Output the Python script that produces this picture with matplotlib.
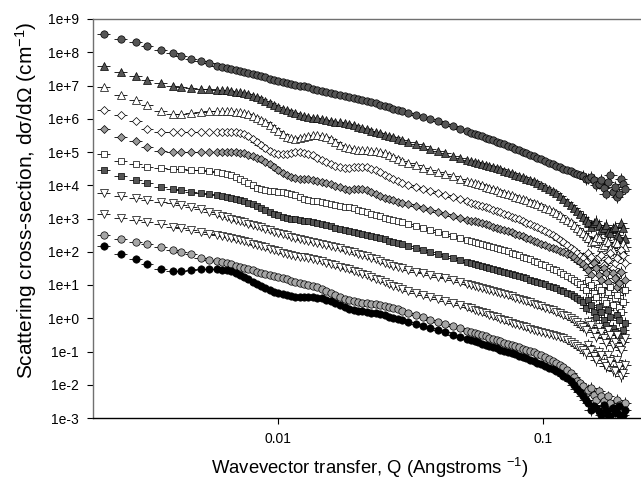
import numpy as np
import matplotlib
matplotlib.use("Agg")
import matplotlib.pyplot as plt
from matplotlib.ticker import FixedLocator, FuncFormatter, NullLocator

plt.rcParams['font.family'] = ['Liberation Sans', 'DejaVu Sans']
plt.rcParams['mathtext.fontset'] = 'custom'
plt.rcParams['mathtext.rm'] = 'Liberation Sans'
plt.rcParams['mathtext.it'] = 'Liberation Sans'

# Shared Q grid (1/Angstrom)
q = [0.0022, 0.00255, 0.0029, 0.0032, 0.0036, 0.0040, 0.0043, 0.0047, 0.0051, 0.0055, 0.0059,
     0.00615, 0.0064, 0.00665, 0.0069, 0.00715, 0.0074, 0.0077, 0.0080, 0.0083, 0.0086,
     0.00895, 0.0093, 0.00965, 0.0100, 0.0104, 0.0108, 0.0112, 0.0116, 0.01205, 0.0125,
     0.0130, 0.0135, 0.01405, 0.0146, 0.0152, 0.0158, 0.01645, 0.0171, 0.0178, 0.0185,
     0.01925, 0.0200, 0.0208, 0.0216, 0.02245, 0.0233, 0.02425, 0.0252, 0.0262, 0.0272,
     0.0283, 0.0294,
     0.0310, 0.0330, 0.0352, 0.0375, 0.0400, 0.0427, 0.0455, 0.0485, 0.0517,
     0.0534, 0.0551, 0.05695, 0.0588, 0.06075, 0.0627, 0.06475, 0.0668, 0.0690, 0.0712,
     0.0736, 0.0760, 0.0785, 0.0810, 0.0837, 0.0864, 0.08925, 0.0921, 0.09515, 0.0982,
     0.1016, 0.105, 0.1085, 0.112, 0.1155, 0.119, 0.123, 0.127, 0.1305, 0.134,
     0.1375, 0.141, 0.1445, 0.148, 0.1515, 0.155, 0.1585, 0.162, 0.1655, 0.169,
     0.1725, 0.176, 0.1795, 0.183, 0.1865, 0.190, 0.1935, 0.197, 0.2005, 0.204]

# log10 of scattering cross-section for each (offset) curve, top to bottom
s1 = [8.55, 8.40, 8.30, 8.19, 8.08, 7.98, 7.90, 7.81, 7.74, 7.67, 7.60,
      7.56, 7.52, 7.49, 7.46, 7.43, 7.40, 7.37, 7.34, 7.31, 7.28,
      7.25, 7.21, 7.18, 7.15, 7.12, 7.09, 7.06, 7.03, 7.00, 6.97,
      6.94, 6.90, 6.87, 6.84, 6.81, 6.78, 6.75, 6.72, 6.69, 6.66,
      6.62, 6.59, 6.56, 6.53, 6.50, 6.46, 6.42, 6.38, 6.34, 6.30,
      6.26, 6.22,
      6.17, 6.11, 6.05, 5.99, 5.92, 5.85, 5.78, 5.70, 5.62,
      5.58, 5.55, 5.51, 5.47, 5.43, 5.39, 5.35, 5.31, 5.27, 5.23,
      5.19, 5.14, 5.10, 5.05, 5.01, 4.96, 4.92, 4.87, 4.83, 4.78,
      4.73, 4.68, 4.64, 4.59, 4.55, 4.50, 4.46, 4.42, 4.38, 4.34,
      4.30, 4.27, 4.18, 4.20, 4.25, 4.15, 4.00, 4.05, 4.15, 3.92,
      3.75, 4.10, 4.30, 3.80, 3.95, 3.65, 3.75, 4.20, 4.05, 3.90]
s2 = [7.60, 7.41, 7.28, 7.16, 7.07, 6.99, 6.95, 6.92, 6.90, 6.89, 6.87,
      6.86, 6.85, 6.83, 6.81, 6.79, 6.76, 6.73, 6.69, 6.65, 6.60,
      6.54, 6.48, 6.42, 6.36, 6.30, 6.25, 6.20, 6.16, 6.12, 6.08,
      6.05, 6.03, 6.01, 5.99, 5.96, 5.94, 5.91, 5.89, 5.86, 5.83,
      5.80, 5.76, 5.72, 5.68, 5.64, 5.60, 5.56, 5.52, 5.48, 5.44,
      5.40, 5.37,
      5.31, 5.24, 5.17, 5.10, 5.03, 4.96, 4.89, 4.82, 4.76,
      4.73, 4.70, 4.67, 4.64, 4.61, 4.58, 4.55, 4.51, 4.48, 4.44,
      4.40, 4.36, 4.32, 4.28, 4.24, 4.20, 4.16, 4.12, 4.07, 4.02,
      3.96, 3.90, 3.83, 3.76, 3.68, 3.60, 3.50, 3.40, 3.32, 3.23,
      3.14, 3.05, 2.95, 2.90, 2.75, 2.85, 2.92, 2.80, 2.65, 2.72,
      2.80, 2.60, 2.55, 2.70, 2.75, 2.50, 2.45, 2.85, 2.70, 2.40]
s3 = [6.96, 6.72, 6.57, 6.40, 6.22, 6.15, 6.15, 6.18, 6.20, 6.22, 6.23,
      6.23, 6.23, 6.22, 6.21, 6.19, 6.17, 6.13, 6.09, 6.03, 5.97,
      5.90, 5.82, 5.73, 5.63, 5.53, 5.45, 5.41, 5.40, 5.43, 5.46,
      5.49, 5.50, 5.50, 5.48, 5.44, 5.39, 5.30, 5.22, 5.15, 5.11,
      5.09, 5.07, 5.06, 5.05, 5.04, 5.03, 5.00, 4.97, 4.92, 4.86,
      4.80, 4.73,
      4.67, 4.60, 4.53, 4.47, 4.40, 4.34, 4.27, 4.20, 4.14,
      4.10, 4.07, 4.03, 4.00, 3.96, 3.93, 3.89, 3.85, 3.81, 3.78,
      3.74, 3.70, 3.66, 3.63, 3.59, 3.55, 3.51, 3.47, 3.43, 3.38,
      3.33, 3.28, 3.22, 3.16, 3.10, 3.03, 2.96, 2.88, 2.79, 2.70,
      2.62, 2.55, 2.48, 2.42, 2.28, 2.33, 2.45, 2.40, 2.15, 2.20,
      2.35, 2.30, 2.10, 2.05, 2.30, 2.25, 2.00, 1.95, 2.25, 2.15]
s4 = [6.26, 6.11, 5.92, 5.68, 5.61, 5.59, 5.59, 5.60, 5.61, 5.61, 5.61,
      5.61, 5.61, 5.60, 5.59, 5.57, 5.54, 5.48, 5.40, 5.31, 5.22,
      5.13, 5.04, 4.97, 4.93, 4.93, 4.95, 4.98, 5.00, 5.00, 4.98,
      4.95, 4.90, 4.83, 4.76, 4.70, 4.64, 4.59, 4.55, 4.53, 4.52,
      4.54, 4.55, 4.55, 4.54, 4.50, 4.45, 4.39, 4.32, 4.25, 4.19,
      4.13, 4.07,
      4.01, 3.95, 3.89, 3.83, 3.77, 3.71, 3.65, 3.59, 3.52,
      3.48, 3.45, 3.41, 3.38, 3.34, 3.31, 3.27, 3.23, 3.19, 3.15,
      3.10, 3.06, 3.01, 2.97, 2.92, 2.87, 2.83, 2.78, 2.73, 2.68,
      2.62, 2.57, 2.50, 2.43, 2.36, 2.28, 2.20, 2.12, 2.04, 1.96,
      1.88, 1.82, 1.70, 1.95, 1.85, 1.70, 1.55, 1.85, 1.90, 1.60,
      1.45, 1.75, 1.95, 1.50, 1.65, 1.80, 1.35, 2.05, 1.90, 1.65]
s5 = [5.69, 5.44, 5.32, 5.14, 5.04, 5.01, 5.00, 5.00, 5.01, 5.01, 5.01,
      5.01, 5.01, 5.01, 5.00, 4.98, 4.96, 4.92, 4.88, 4.83, 4.78,
      4.71, 4.64, 4.55, 4.45, 4.37, 4.30, 4.26, 4.22, 4.20, 4.19,
      4.18, 4.16, 4.14, 4.11, 4.08, 4.04, 3.99, 3.94, 3.90, 3.87,
      3.88, 3.88, 3.88, 3.87, 3.81, 3.74, 3.68, 3.63, 3.59, 3.55,
      3.51, 3.48,
      3.43, 3.38, 3.32, 3.26, 3.20, 3.14, 3.08, 3.02, 2.96,
      2.93, 2.91, 2.88, 2.85, 2.82, 2.79, 2.75, 2.72, 2.69, 2.66,
      2.62, 2.58, 2.54, 2.50, 2.46, 2.42, 2.38, 2.33, 2.28, 2.24,
      2.20, 2.15, 2.11, 2.07, 2.02, 1.98, 1.94, 1.90, 1.83, 1.75,
      1.68, 1.62, 1.55, 1.45, 1.30, 1.65, 1.50, 1.30, 1.15, 1.50,
      1.35, 1.10, 0.90, 1.35, 1.20, 0.95, 1.05, 1.40, 0.85, 1.15]
s6 = [4.93, 4.74, 4.63, 4.56, 4.51, 4.49, 4.48, 4.46, 4.45, 4.43, 4.39,
      4.37, 4.34, 4.30, 4.25, 4.19, 4.13, 4.06, 4.00, 3.93, 3.88,
      3.85, 3.83, 3.82, 3.81, 3.80, 3.78, 3.74, 3.70, 3.65, 3.60,
      3.57, 3.54, 3.52, 3.50, 3.47, 3.44, 3.41, 3.39, 3.36, 3.34,
      3.31, 3.27, 3.23, 3.19, 3.15, 3.11, 3.07, 3.03, 2.99, 2.95,
      2.91, 2.88,
      2.83, 2.77, 2.72, 2.66, 2.60, 2.54, 2.48, 2.42, 2.36,
      2.33, 2.30, 2.27, 2.24, 2.21, 2.18, 2.15, 2.12, 2.09, 2.05,
      2.01, 1.97, 1.93, 1.89, 1.85, 1.81, 1.77, 1.72, 1.68, 1.63,
      1.59, 1.54, 1.49, 1.44, 1.39, 1.33, 1.28, 1.22, 1.16, 1.10,
      1.02, 0.95, 0.85, 1.15, 1.00, 0.75, 0.65, 0.95, 0.85, 0.55,
      0.45, 0.80, 0.95, 0.40, 0.60, 0.70, 0.35, 0.20, 0.50, 0.85]
s7 = [4.46, 4.27, 4.16, 4.06, 3.96, 3.89, 3.86, 3.81, 3.77, 3.73, 3.70,
      3.68, 3.66, 3.63, 3.60, 3.57, 3.53, 3.48, 3.43, 3.38, 3.33,
      3.27, 3.21, 3.15, 3.10, 3.06, 3.03, 3.00, 2.98, 2.95, 2.93,
      2.91, 2.89, 2.86, 2.83, 2.80, 2.76, 2.72, 2.69, 2.65, 2.62,
      2.59, 2.56, 2.53, 2.51, 2.48, 2.44, 2.40, 2.37, 2.33, 2.29,
      2.25, 2.22,
      2.17, 2.11, 2.05, 1.99, 1.93, 1.87, 1.81, 1.75, 1.69,
      1.66, 1.64, 1.61, 1.58, 1.55, 1.52, 1.49, 1.46, 1.43, 1.40,
      1.36, 1.33, 1.30, 1.27, 1.23, 1.20, 1.16, 1.13, 1.09, 1.06,
      1.02, 0.98, 0.94, 0.90, 0.86, 0.82, 0.77, 0.72, 0.66, 0.60,
      0.54, 0.48, 0.30, 0.55, 0.40, 0.20, 0.05, 0.35, 0.20, -0.05,
      -0.20, 0.25, 0.05, -0.30, -0.40, 0.10, -0.05, -0.55, -0.35, -0.15]
s8 = [3.76, 3.67, 3.61, 3.56, 3.51, 3.46, 3.42, 3.36, 3.29, 3.21, 3.13,
      3.08, 3.04, 3.00, 2.96, 2.92, 2.88, 2.84, 2.80, 2.76, 2.73,
      2.68, 2.64, 2.60, 2.56, 2.52, 2.49, 2.45, 2.42, 2.39, 2.36,
      2.33, 2.30, 2.27, 2.24, 2.20, 2.17, 2.13, 2.10, 2.06, 2.02,
      1.98, 1.94, 1.90, 1.86, 1.81, 1.77, 1.72, 1.67, 1.62, 1.58,
      1.54, 1.50,
      1.45, 1.40, 1.35, 1.30, 1.25, 1.20, 1.15, 1.10, 1.04,
      1.01, 0.98, 0.95, 0.92, 0.89, 0.86, 0.83, 0.80, 0.76, 0.73,
      0.70, 0.66, 0.62, 0.59, 0.55, 0.52, 0.48, 0.44, 0.40, 0.36,
      0.32, 0.28, 0.24, 0.20, 0.15, 0.11, 0.06, 0.00, -0.06, -0.12,
      -0.20, -0.25, -0.35, -0.10, -0.20, -0.40, -0.55, -0.25, -0.40, -0.60,
      -0.75, -0.35, -0.50, -0.80, -0.70, -0.50, -0.85, -0.95, -0.70, -0.60]
s9 = [3.13, 3.02, 2.94, 2.88, 2.82, 2.75, 2.71, 2.65, 2.59, 2.54, 2.49,
      2.46, 2.43, 2.40, 2.37, 2.34, 2.31, 2.28, 2.24, 2.21, 2.17,
      2.13, 2.09, 2.05, 2.01, 1.97, 1.94, 1.91, 1.88, 1.85, 1.83,
      1.80, 1.77, 1.74, 1.71, 1.67, 1.63, 1.59, 1.55, 1.51, 1.47,
      1.43, 1.38, 1.34, 1.29, 1.24, 1.19, 1.14, 1.09, 1.04, 0.98,
      0.93, 0.88,
      0.83, 0.77, 0.71, 0.65, 0.59, 0.53, 0.47, 0.40, 0.33,
      0.30, 0.26, 0.23, 0.19, 0.15, 0.11, 0.07, 0.03, -0.01, -0.05,
      -0.09, -0.13, -0.17, -0.20, -0.24, -0.27, -0.31, -0.34, -0.38, -0.41,
      -0.44, -0.47, -0.50, -0.53, -0.56, -0.60, -0.65, -0.70, -0.76, -0.82,
      -0.88, -0.95, -1.05, -0.80, -0.95, -1.15, -1.25, -1.00, -1.10, -1.35,
      -1.45, -1.10, -1.30, -1.55, -1.60, -1.25, -1.45, -1.75, -1.65, -1.40]
s10 = [2.50, 2.38, 2.30, 2.23, 2.13, 2.05, 2.00, 1.92, 1.82, 1.76, 1.71,
       1.68, 1.65, 1.62, 1.58, 1.55, 1.52, 1.48, 1.44, 1.40, 1.36,
       1.32, 1.29, 1.26, 1.23, 1.20, 1.17, 1.13, 1.10, 1.07, 1.04,
       1.01, 0.98, 0.93, 0.88, 0.82, 0.76, 0.69, 0.63, 0.58, 0.54,
       0.51, 0.49, 0.47, 0.45, 0.43, 0.42, 0.40, 0.37, 0.34, 0.31,
       0.27, 0.22,
       0.17, 0.10, 0.03, -0.04, -0.10, -0.16, -0.23, -0.30, -0.37,
       -0.40, -0.44, -0.47, -0.51, -0.54, -0.58, -0.61, -0.65, -0.69, -0.73,
       -0.76, -0.80, -0.83, -0.87, -0.91, -0.95, -0.99, -1.03, -1.07, -1.12,
       -1.17, -1.22, -1.28, -1.34, -1.40, -1.47, -1.56, -1.65, -1.78, -1.90,
       -1.95, -2.05, -2.25, -2.15, -2.10, -2.30, -2.45, -2.20, -2.35, -2.50,
       -2.65, -2.35, -2.55, -2.70, -2.80, -2.45, -2.60, -2.85, -2.75, -2.55]
s11 = [2.17, 1.94, 1.79, 1.62, 1.48, 1.43, 1.43, 1.45, 1.47, 1.48, 1.47,
       1.46, 1.45, 1.41, 1.36, 1.30, 1.24, 1.17, 1.10, 1.03, 0.97,
       0.91, 0.85, 0.80, 0.76, 0.72, 0.69, 0.66, 0.64, 0.63, 0.63,
       0.63, 0.63, 0.62, 0.60, 0.56, 0.51, 0.45, 0.39, 0.34, 0.29,
       0.26, 0.23, 0.21, 0.19, 0.17, 0.15, 0.12, 0.09, 0.05, 0.02,
       -0.01, -0.05,
       -0.10, -0.16, -0.23, -0.29, -0.36, -0.42, -0.49, -0.56, -0.63,
       -0.66, -0.69, -0.72, -0.76, -0.79, -0.83, -0.86, -0.90, -0.94, -0.98,
       -1.01, -1.05, -1.09, -1.13, -1.17, -1.21, -1.25, -1.30, -1.34, -1.39,
       -1.44, -1.49, -1.54, -1.60, -1.66, -1.73, -1.81, -1.90, -2.00, -2.12,
       -2.23, -2.35, -2.45, -2.55, -2.75, -2.65, -2.70, -2.80, -2.90, -2.60,
       -2.75, -2.90, -2.95, -2.70, -2.80, -2.85, -2.65, -2.95, -2.90, -2.75]

series = [s1, s2, s3, s4, s5, s6, s7, s8, s9, s10, s11]
markers = ['o', '^', '^', 'D', 'D', 's', 's', 'v', 'v', 'o', 'o']
faces = ['#555555', '#555555', 'white', 'white', '#999999', 'white', '#555555',
         'white', 'white', '#a6a6a6', 'black']
sizes = [5.3, 5.8, 5.8, 4.4, 4.4, 4.4, 4.4, 5.8, 5.8, 5.3, 5.3]

dq_rel = 0.055      # horizontal (Q-resolution) error bar, relative
noisy_q = 0.14      # above this Q the data carry visible vertical error bars
dI_fac = 1.5

fig = plt.figure(figsize=(6.41, 4.83), dpi=100)
ax = fig.add_axes([93/641, 1 - 418/483, 1 - 93/641, (418 - 19)/483])

qa = np.array(q)
for vals, m, fc, ms in zip(series, markers, faces, sizes):
    I = 10.0 ** np.array(vals)
    yerr_lo = np.where(qa >= noisy_q, I - I / dI_fac, 0.0)
    yerr_hi = np.where(qa >= noisy_q, I * (dI_fac - 1.0), 0.0)
    ax.errorbar(qa, I, xerr=qa * dq_rel, yerr=[yerr_lo, yerr_hi],
                fmt=m, ms=ms, mfc=fc, mec='black', mew=0.5,
                ecolor='black', elinewidth=0.6, capsize=0, ls='none')

ax.set_xscale('log')
ax.set_yscale('log')
ax.set_xlim(0.002, 0.234)
ax.set_ylim(1e-3, 1e9)

ax.xaxis.set_major_locator(FixedLocator([0.01, 0.1]))
ax.xaxis.set_minor_locator(NullLocator())
ax.xaxis.set_major_formatter(FuncFormatter(lambda v, p: f"{v:g}"))
ax.yaxis.set_major_locator(FixedLocator([10.0 ** k for k in range(-3, 10)]))
ax.yaxis.set_minor_locator(NullLocator())
ax.yaxis.set_major_formatter(FuncFormatter(lambda v, p: f"1e{int(round(np.log10(v))):+d}"))

ax.tick_params(axis='both', direction='out', length=4, width=0.8, labelsize=10,
               pad=6, colors='black')
ax.spines['right'].set_visible(False)
ax.spines['top'].set_color('#707070')
ax.spines['left'].set_color('#707070')
ax.spines['bottom'].set_color('black')
for sp in ax.spines.values():
    sp.set_linewidth(1.0)

ax.set_xlabel('Wavevector transfer, Q (Angstroms $^{-1}$)', fontsize=13.3, va='center')
ax.xaxis.set_label_coords((370 - 93) / 548, (418 - 468) / 399)
ax.set_ylabel('Scattering cross-section, dσ/dΩ (cm$^{-1}$)', fontsize=15, va='center')
ax.yaxis.set_label_coords((26 - 93) / 548, (418 - 200) / 399)

fig.savefig('out.png', dpi=100)
